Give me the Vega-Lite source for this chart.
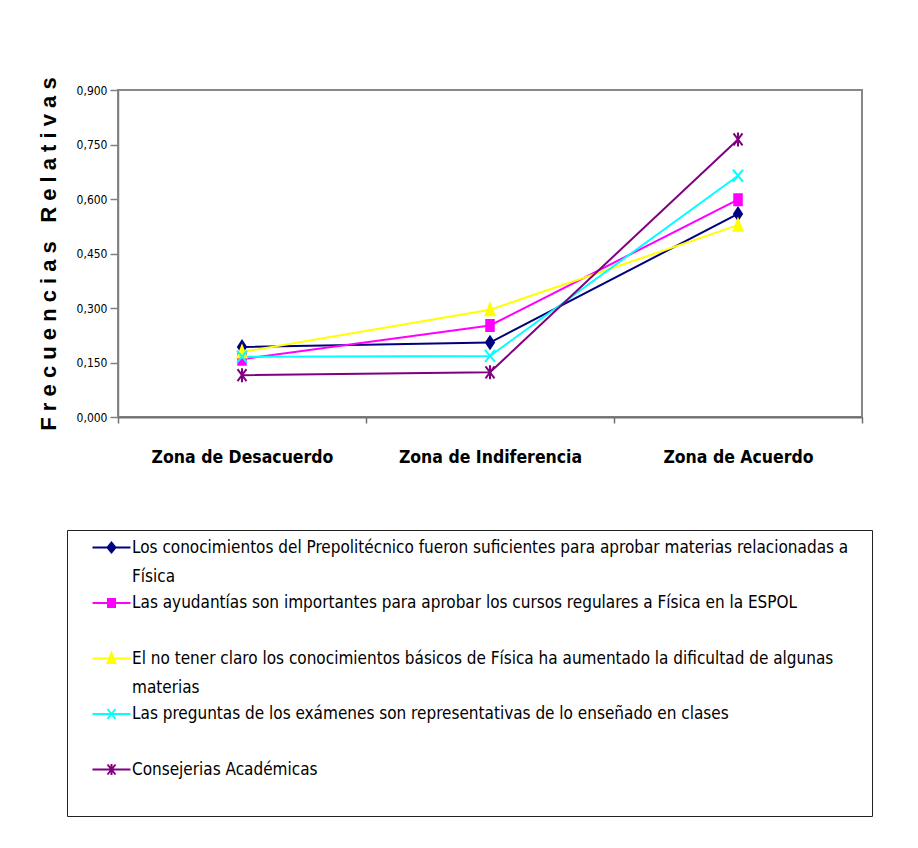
{
  "$schema": "https://vega.github.io/schema/vega-lite/v6.json",
  "autosize": {"type": "none"},
  "padding": {"left": 118, "top": 90, "right": 56, "bottom": 431},
  "width": 744,
  "height": 327,
  "background": "white",
  "config": {
    "view": {"stroke": "#888888", "strokeWidth": 2},
    "font": "DejaVu Sans Condensed, Liberation Sans, sans-serif"
  },
  "data": {
    "values": [
      {"zona": "Zona de Desacuerdo", "serie": "Los conocimientos del Prepolitécnico fueron suficientes para aprobar materias relacionadas a Física", "frecuencia": 0.193},
      {"zona": "Zona de Indiferencia", "serie": "Los conocimientos del Prepolitécnico fueron suficientes para aprobar materias relacionadas a Física", "frecuencia": 0.205},
      {"zona": "Zona de Acuerdo", "serie": "Los conocimientos del Prepolitécnico fueron suficientes para aprobar materias relacionadas a Física", "frecuencia": 0.559},
      {"zona": "Zona de Desacuerdo", "serie": "Las ayudantías son importantes para aprobar los cursos regulares a Física en la ESPOL", "frecuencia": 0.159},
      {"zona": "Zona de Indiferencia", "serie": "Las ayudantías son importantes para aprobar los cursos regulares a Física en la ESPOL", "frecuencia": 0.252},
      {"zona": "Zona de Acuerdo", "serie": "Las ayudantías son importantes para aprobar los cursos regulares a Física en la ESPOL", "frecuencia": 0.598},
      {"zona": "Zona de Desacuerdo", "serie": "El no tener claro los conocimientos básicos de Física ha aumentado la dificultad de algunas materias", "frecuencia": 0.179},
      {"zona": "Zona de Indiferencia", "serie": "El no tener claro los conocimientos básicos de Física ha aumentado la dificultad de algunas materias", "frecuencia": 0.295},
      {"zona": "Zona de Acuerdo", "serie": "El no tener claro los conocimientos básicos de Física ha aumentado la dificultad de algunas materias", "frecuencia": 0.528},
      {"zona": "Zona de Desacuerdo", "serie": "Las preguntas de los exámenes son representativas de lo enseñado en clases", "frecuencia": 0.166},
      {"zona": "Zona de Indiferencia", "serie": "Las preguntas de los exámenes son representativas de lo enseñado en clases", "frecuencia": 0.168},
      {"zona": "Zona de Acuerdo", "serie": "Las preguntas de los exámenes son representativas de lo enseñado en clases", "frecuencia": 0.664},
      {"zona": "Zona de Desacuerdo", "serie": "Consejerias Académicas", "frecuencia": 0.115},
      {"zona": "Zona de Indiferencia", "serie": "Consejerias Académicas", "frecuencia": 0.123},
      {"zona": "Zona de Acuerdo", "serie": "Consejerias Académicas", "frecuencia": 0.764}
    ]
  },
  "encoding": {
    "x": {
      "field": "zona", "type": "nominal", "sort": null,
      "scale": {"type": "band", "paddingInner": 0, "paddingOuter": 0, "domain": ["Zona de Desacuerdo", "Zona de Indiferencia", "Zona de Acuerdo"]},
      "axis": {
        "title": null, "labelAngle": 0, "tickBand": "extent", "grid": false,
        "domainColor": "#707070", "domainWidth": 2, "tickColor": "#707070", "tickWidth": 1.5, "tickSize": 6,
        "labelFont": "DejaVu Sans Condensed", "labelFontWeight": "bold", "labelFontSize": 17.5, "labelColor": "black",
        "labelPadding": 25, "labelLimit": 400
      }
    },
    "y": {
      "field": "frecuencia", "type": "quantitative",
      "scale": {"domain": [0, 0.9], "nice": false, "zero": true},
      "axis": {
        "title": "F r e c u e n c i a s\u00a0\u00a0\u00a0R e l a t i v a s",
        "titleFont": "Liberation Sans", "titleFontWeight": "bold", "titleFontSize": 22, "titleColor": "black",
        "titlePadding": 16,
        "values": [0, 0.15, 0.3, 0.45, 0.6, 0.75, 0.9],
        "labelExpr": "replace(format(datum.value, '.3f'), '.', ',')",
        "labelFont": "DejaVu Sans Condensed", "labelFontSize": 12, "labelColor": "black", "labelPadding": 3,
        "grid": false, "domainColor": "#808080", "domainWidth": 1.5, "tickColor": "#808080", "tickWidth": 1.5, "tickSize": 8
      }
    },
    "color": {
      "field": "serie", "type": "nominal",
      "scale": {
        "domain": [
          "Los conocimientos del Prepolitécnico fueron suficientes para aprobar materias relacionadas a Física",
          "Las ayudantías son importantes para aprobar los cursos regulares a Física en la ESPOL",
          "El no tener claro los conocimientos básicos de Física ha aumentado la dificultad de algunas materias",
          "Las preguntas de los exámenes son representativas de lo enseñado en clases",
          "Consejerias Académicas"
        ],
        "range": ["#000080", "#FF00FF", "#FFFF00", "#00FFFF", "#800080"]
      },
      "legend": {
        "orient": "none", "legendX": -51, "legendY": 440, "title": null,
        "padding": 9, "strokeColor": "#222222", "fillColor": "white",
        "labelFont": "DejaVu Sans Condensed", "labelFontSize": 17, "labelColor": "black", "labelLimit": 900,
        "labelOffset": 12, "symbolOffset": 27, "rowPadding": 8.5, "symbolSize": 100, "symbolStrokeWidth": 2,
        "labelExpr": "indexof(datum.label,'Prepolit')>=0 ? ['Los conocimientos del Prepolitécnico fueron suficientes para aprobar materias relacionadas a\u00a0\u00a0\u00a0\u200b','Física'] : indexof(datum.label,'no tener')>=0 ? ['El no tener claro los conocimientos básicos de Física ha aumentado la dificultad de algunas','materias'] : [datum.label,' ']",
        "encode": {
          "labels": {"update": {"lineHeight": {"value": 29}}},
          "symbols": {"update": {
            "shape": {"signal": "indexof(datum.value,'Prepolit')>=0 ? 'M-3.8,0H3.8M0,-1L0.8,0L0,1L-0.8,0Z' : indexof(datum.value,'ayudant')>=0 ? 'M-3.8,0H3.8M-0.7,-0.8H0.7V0.8H-0.7Z' : indexof(datum.value,'no tener')>=0 ? 'M-3.8,0H3.8M0,-1.1L0.8,0.9H-0.8Z' : indexof(datum.value,'preguntas')>=0 ? 'M-3.8,0H3.8M-0.8,-1L0.8,1M-0.8,1L0.8,-1' : 'M-3.8,0H3.8M-0.8,-1L0.8,1M-0.8,1L0.8,-1M0,-1.1V1.1'"},
            "fill": {"scale": "color", "field": "value"},
            "stroke": {"scale": "color", "field": "value"},
            "strokeWidth": {"value": 2},
            "opacity": {"value": 1}
          }}
        }
      }
    }
  },
  "layer": [
    {
      "mark": {"type": "line", "strokeWidth": 2}
    },
    {
      "mark": {"type": "point", "filled": false, "size": 100, "strokeWidth": 2, "opacity": 1},
      "encoding": {
        "shape": {
          "field": "serie", "type": "nominal", "legend": null,
          "scale": {
            "domain": [
              "Consejerias Académicas",
              "Las preguntas de los exámenes son representativas de lo enseñado en clases",
              "El no tener claro los conocimientos básicos de Física ha aumentado la dificultad de algunas materias",
              "Las ayudantías son importantes para aprobar los cursos regulares a Física en la ESPOL",
              "Los conocimientos del Prepolitécnico fueron suficientes para aprobar materias relacionadas a Física"
            ],
            "range": [
              "M-0.9,-1.2L0.9,1.2M-0.9,1.2L0.9,-1.2M0,-1.4V1.4",
              "M-1,-1.2L1,1.2M-1,1.2L1,-1.2",
              "M0,-1.2L0.9,1.1H-0.9Z",
              "M-0.75,-1.1H0.75V1.1H-0.75Z",
              "M0,-1.2L0.8,0L0,1.2L-0.8,0Z"
            ]
          }
        },
        "fill": {
          "field": "serie", "type": "nominal", "legend": null,
          "scale": {
            "domain": [
              "Las ayudantías son importantes para aprobar los cursos regulares a Física en la ESPOL",
              "Los conocimientos del Prepolitécnico fueron suficientes para aprobar materias relacionadas a Física",
              "El no tener claro los conocimientos básicos de Física ha aumentado la dificultad de algunas materias",
              "Consejerias Académicas",
              "Las preguntas de los exámenes son representativas de lo enseñado en clases"
            ],
            "range": ["#FF00FF", "#000080", "#FFFF00", "#800080", "#00FFFF"]
          }
        }
      }
    }
  ]
}
